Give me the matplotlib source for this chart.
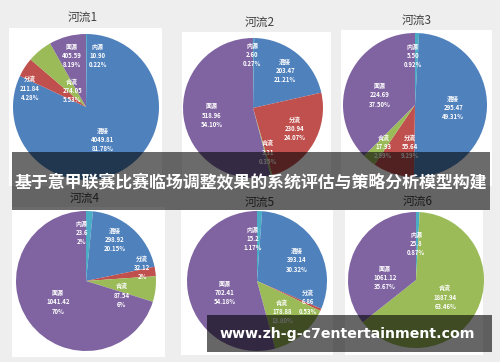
import matplotlib
matplotlib.use("Agg")
import matplotlib.pyplot as plt
from matplotlib.patches import Rectangle

# --- DATA ---
RIVERS = ["河流1", "河流2", "河流3", "河流4", "河流5", "河流6"]
SOURCES = ["内源", "混接", "分流", "合流", "面源"]

river1 = [10.90, 4049.81, 211.84, 274.05, 405.59]
river2 = [2.60, 203.47, 230.94, 3.31, 518.96]
river3 = [5.50, 295.47, 55.64, 17.93, 224.69]
river4 = [23.6, 298.92, 32.12, 87.54, 1041.42]
river5 = [15.2, 393.14, 6.86, 178.88, 702.41]
river6 = [25.8, 0, 0, 1887.94, 1061.12]

pct1 = ["0.22%", "81.78%", "4.28%", "5.53%", "8.19%"]
pct2 = ["0.27%", "21.21%", "24.07%", "0.35%", "54.10%"]
pct3 = ["0.92%", "49.31%", "9.29%", "2.99%", "37.50%"]
pct4 = ["2%", "20.15%", "2%", "6%", "70%"]
pct5 = ["1.17%", "30.32%", "0.53%", "13.80%", "54.18%"]
pct6 = ["0.87%", "", "", "63.46%", "35.67%"]

VALUES = [river1, river2, river3, river4, river5, river6]
PCTS = [pct1, pct2, pct3, pct4, pct5, pct6]
VALUE_FMT = [".2f", ".2f", ".2f", "g", "g", "g"]

BANNER = "基于意甲联赛比赛临场调整效果的系统评估与策略分析模型构建"
WATERMARK = "www.zh-g-c7entertainment.com"

# --- LAYOUT (pixels, origin top-left) ---
W, H = 500, 362
COLORS = ["#4BACC6", "#4F81BD", "#C0504D", "#9BBB59", "#8064A2"]
PANELS = [(9, 28, 162, 186), (182, 32, 331, 186), (341, 30, 492, 186),
          (12, 207, 165, 357), (181, 210, 333, 355), (345, 210, 483, 355)]
TITLES = [(83, 17), (260, 22), (417, 20), (85, 198), (260, 202), (418, 201)]
PIES = [(86, 107, 73), (253, 108, 70), (415, 105, 72),
        (86, 281, 70), (257, 281, 70), (416, 280, 68)]
# label centres in pie-radius units
LABEL_POS = [
    [(0.16, 0.71), (0.23, -0.45), (-0.77, 0.26), (-0.19, 0.23), (-0.19, 0.71)],
    [(-0.01, 0.76), (0.46, 0.54), (0.60, -0.29), (0.21, -0.63), (-0.59, -0.10)],
    [(-0.03, 0.69), (0.53, -0.04), (-0.07, -0.58), (-0.44, -0.58), (-0.49, 0.14)],
    [(-0.06, 0.69), (0.41, 0.59), (0.80, 0.19), (0.51, -0.20), (-0.40, -0.30)],
    [(-0.06, 0.61), (0.57, 0.30), (0.73, -0.30), (0.36, -0.44), (-0.46, -0.16)],
    [(0.00, 0.54), (0, 0), (0, 0), (0.43, -0.25), (-0.46, 0.04)],
]

CJK = ["Noto Sans CJK SC", "DejaVu Sans"]


def px_rect(x0, y0, x1, y1):
    return [x0 / W, 1 - y1 / H, (x1 - x0) / W, (y1 - y0) / H]


fig = plt.figure(figsize=(W / 100, H / 100), dpi=100)
fig.patch.set_facecolor("#EEEEEE")

# white chart panels
for (x0, y0, x1, y1) in PANELS:
    fig.patches.append(Rectangle((x0 / W, 1 - y1 / H), (x1 - x0) / W, (y1 - y0) / H,
                                 transform=fig.transFigure, facecolor="white",
                                 edgecolor="none", zorder=-2))

for i, vals in enumerate(VALUES):
    cx, cy, r = PIES[i]
    ax = fig.add_axes(px_rect(cx - r, cy - r, cx + r, cy + r))
    ax.set_zorder(1)
    ax.pie(vals, colors=COLORS, startangle=90, counterclock=False, radius=1,
           wedgeprops=dict(linewidth=0, edgecolor="none"))
    ax.set_xlim(-1, 1)
    ax.set_ylim(-1, 1)
    ax.set_aspect("equal")
    ax.axis("off")
    for j, v in enumerate(vals):
        if v == 0:
            continue
        lx, ly = LABEL_POS[i][j]
        txt = f"{SOURCES[j]}\n{format(v, VALUE_FMT[i])}\n{PCTS[i][j]}"
        ax.text(lx, ly, txt, ha="center", va="center", color="white",
                fontsize=4.3, fontweight="bold", family=CJK, linespacing=1.35)

    tx, ty = TITLES[i]
    fig.text(tx / W, 1 - ty / H, RIVERS[i], ha="center", va="center",
             fontsize=8.5, color="#404040", family=CJK, zorder=2)

# dark banner with title
fig.patches.append(Rectangle((12 / W, 1 - 210 / H), 478 / W, 58 / H,
                             transform=fig.transFigure, facecolor="black",
                             alpha=0.58, edgecolor="none", zorder=5))
fig.text(251 / W, 1 - 183 / H, BANNER, ha="center", va="center", color="white",
         fontsize=12.2, fontweight="bold", family=CJK, zorder=6)

# watermark box
fig.patches.append(Rectangle((207 / W, 1 - 352 / H), 285 / W, 37 / H,
                             transform=fig.transFigure, facecolor="black",
                             alpha=0.6, edgecolor="none", zorder=5))
fig.text(347 / W, 1 - 334 / H, WATERMARK, ha="center", va="center", color="white",
         fontsize=10.2, fontweight="bold", family="DejaVu Sans", zorder=6)

fig.savefig("out.png", dpi=100)
